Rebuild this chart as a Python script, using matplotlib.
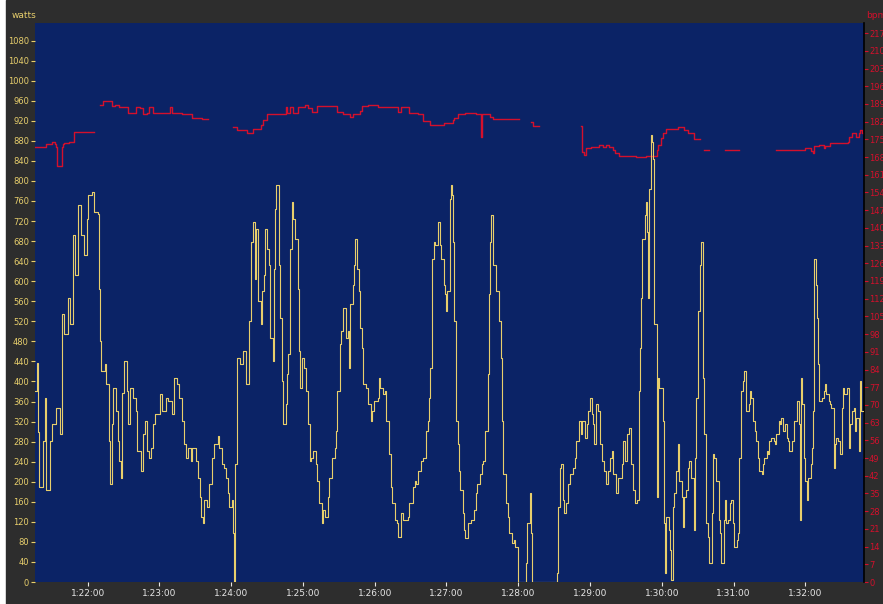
import numpy as np
import matplotlib.pyplot as plt
from matplotlib.ticker import FuncFormatter
from matplotlib.patches import Rectangle

# clock time (seconds) at the left edge of the plot, 1:21:15.6
start = 1 * 3600 + 21 * 60 + 15.6

# power samples: seconds after start, watts
watt_sec = [
    0, 2, 3, 4, 7, 9, 10, 13, 15, 18, 21, 23, 25, 28, 30, 32, 34, 36, 39, 41,
    44, 45, 48, 50, 53, 54, 55, 56, 59, 60, 62, 63, 65, 66, 68, 70, 71, 72, 73, 75,
    77, 78, 80, 82, 85, 86, 89, 91, 92, 94, 96, 97, 99, 101, 105, 107, 110, 112, 115, 117,
    119, 121, 123, 125, 127, 128, 131, 132, 135, 137, 138, 139, 141, 142, 144, 146, 148, 150, 153, 154,
    157, 158, 160, 162, 163, 165, 166, 167, 168, 169, 172, 174, 177, 179, 181, 183, 184, 185, 187, 189,
    190, 192, 193, 194, 196, 197, 199, 200, 201, 202, 204, 205, 207, 208, 210, 211, 212, 214, 215, 216,
    218, 220, 221, 222, 224, 225, 227, 229, 230, 231, 233, 235, 236, 238, 240, 241, 243, 245, 246, 249,
    251, 252, 253, 255, 256, 258, 260, 262, 263, 264, 266, 267, 268, 270, 271, 272, 274, 275, 277, 279,
    281, 282, 284, 287, 288, 289, 291, 293, 294, 296, 298, 299, 301, 303, 304, 306, 308, 312, 313, 316,
    318, 319, 321, 323, 325, 327, 329, 330, 331, 332, 334, 335, 337, 339, 340, 342, 343, 344, 345, 347,
    348, 349, 350, 351, 352, 354, 355, 356, 358, 359, 360, 362, 365, 367, 369, 370, 372, 374, 375, 377,
    379, 380, 381, 382, 383, 385, 386, 388, 390, 391, 392, 394, 396, 397, 399, 401, 402, 404, 409, 411,
    412, 414, 415, 416, 436, 437, 438, 439, 440, 442, 443, 444, 446, 448, 450, 452, 453, 455, 457, 458,
    460, 462, 463, 464, 466, 467, 468, 469, 471, 473, 474, 476, 478, 479, 481, 483, 484, 486, 488, 489,
    491, 492, 494, 495, 497, 499, 500, 502, 504, 505, 506, 507, 508, 510, 511, 512, 513, 514, 515, 516,
    517, 518, 520, 521, 522, 525, 526, 527, 528, 530, 531, 532, 534, 535, 536, 538, 539, 541, 542, 543,
    545, 546, 547, 549, 551, 552, 553, 555, 556, 557, 559, 560, 561, 563, 564, 566, 567, 568, 570, 572,
    573, 574, 576, 577, 578, 580, 581, 582, 584, 585, 587, 588, 589, 591, 592, 593, 595, 597, 598, 599,
    601, 602, 603, 605, 606, 608, 609, 610, 612, 613, 614, 616, 618, 619, 620, 622, 623, 624, 626, 627,
    629, 630, 631, 633, 634, 635, 637, 639, 640, 641, 642, 643, 644, 646, 647, 649, 650, 651, 652, 653,
    654, 655, 656, 658, 660, 661, 662, 664, 665, 666, 668, 669, 670, 672, 673, 675, 676, 677, 679, 681,
    682, 683, 685, 686, 687, 689, 690, 691, 693,
]
watts = [
    380, 437, 300, 190, 282, 367, 183, 282, 315, 347, 296, 534, 494, 566, 514, 693, 613, 752, 693, 653,
    725, 772, 778, 738, 734, 585, 480, 421, 435, 395, 282, 196, 315, 387, 341, 282, 242, 208, 377, 440,
    381, 315, 387, 367, 341, 262, 222, 296, 322, 262, 248, 268, 315, 335, 375, 341, 367, 361, 335, 407,
    395, 367, 322, 276, 248, 268, 242, 268, 242, 208, 169, 129, 117, 163, 149, 196, 248, 276, 292, 268,
    236, 228, 208, 177, 149, 163, 97, 0, 236, 447, 435, 460, 395, 520, 679, 719, 605, 705, 560, 514,
    580, 613, 705, 665, 633, 486, 440, 625, 744, 792, 633, 526, 401, 315, 355, 415, 455, 665, 758, 725,
    685, 585, 460, 387, 447, 427, 381, 315, 242, 248, 262, 236, 202, 157, 117, 143, 129, 169, 208, 248,
    268, 302, 381, 474, 500, 546, 486, 500, 427, 554, 593, 633, 685, 625, 580, 506, 466, 395, 387, 355,
    322, 341, 361, 367, 407, 387, 375, 381, 322, 256, 189, 157, 123, 117, 89, 137, 123, 129, 157, 189,
    202, 196, 222, 242, 248, 302, 322, 367, 427, 645, 679, 673, 719, 673, 645, 593, 574, 540, 580, 764,
    792, 772, 679, 520, 322, 276, 222, 183, 137, 103, 87, 117, 123, 143, 177, 196, 216, 236, 242, 302,
    415, 574, 679, 733, 633, 633, 580, 520, 447, 322, 216, 157, 129, 97, 77, 83, 69, 0, 0, 38,
    117, 177, 97, 0, 0, 18, 149, 228, 236, 163, 137, 157, 196, 216, 228, 248, 282, 322, 296, 322,
    288, 315, 341, 367, 335, 315, 276, 355, 341, 276, 242, 222, 196, 222, 248, 262, 216, 177, 208, 208,
    236, 282, 242, 296, 308, 236, 183, 157, 163, 381, 466, 566, 685, 733, 758, 699, 566, 784, 891, 877,
    844, 514, 169, 407, 387, 322, 117, 18, 129, 103, 64, 4, 149, 177, 222, 276, 202, 169, 109, 169,
    183, 228, 242, 208, 103, 248, 367, 540, 633, 679, 407, 296, 117, 89, 38, 137, 256, 248, 202, 123,
    97, 38, 123, 163, 117, 123, 157, 163, 117, 69, 83, 97, 248, 381, 401, 421, 341, 355, 381, 367,
    322, 302, 282, 248, 222, 216, 236, 248, 262, 256, 282, 288, 282, 276, 296, 322, 315, 327, 302, 315,
    288, 282, 262, 282, 282, 322, 361, 315, 123, 407, 355, 248, 202, 163, 208, 236, 268, 341, 645, 593,
    526, 435, 361, 367, 381, 395, 375, 361, 355, 347, 228, 276, 288, 282, 256, 347, 387, 375, 387, 268,
    315, 341, 347, 302, 327, 262, 401, 341, 248,
]

# heart rate: seconds after start, bpm (nan = dropout)
nan = float('nan')
hr_sec = [
    0, 10, 15, 17, 18, 19, 22, 23, 24, 25, 29, 33, 49, 50,
    55, 57, 65, 67, 71, 78, 85, 88, 91, 94, 96, 99, 113, 115, 123, 132, 140, 144, 145,
    166, 169, 178, 183, 189, 191, 194, 210, 211, 214, 216, 220, 226, 229, 232, 236, 253, 258,
    264, 266, 272, 274, 279, 287, 304, 306, 313, 321, 325, 331, 342, 350, 351, 354, 360, 369,
    373, 374, 381, 383, 404, 405,
    415, 417, 421, 422,
    457, 458, 459, 461, 465, 472, 475, 478, 480, 484, 485, 489, 503, 511, 520, 521, 524, 525,
    528, 538, 543, 546, 551, 555, 556,
    560, 563, 564,
    577, 588, 589,
    620, 644, 649, 651, 652, 656, 660, 661, 665, 680, 681, 683, 687, 689, 690, 692, 693,
]
hr_bpm = [
    172, 173.2, 174, 173.2, 172, 164.5, 164.5, 172, 173, 173.5, 174, 178, 178, nan,
    188.6, 190, 188, 188.6, 187.7, 185.6, 187.7, 187.3, 185, 185.6, 187.7, 185.6, 187.7, 185.6,
    185, 183.5, 183, 183, nan,
    180, 178.7, 177.7, 179, 180.7, 182.7, 185, 187.7, 185.6, 187.7, 185.6, 187.7, 188.6, 187.3,
    186, 188.2, 186, 185, 184, 185, 186.4, 188.2, 188.7, 187.7, 186, 187.7, 185.6, 185, 182.4,
    180.7, 181.4, 182.7, 183.3, 185, 185.6, 185, 176, 185, 184, 183, 183, nan,
    182, 180.3, 180.3, nan,
    180.3, 170.1, 168.8, 171.5, 171.9, 172.8, 171.9, 172.8, 171.9, 170.8, 169.8, 168.6, 168.2,
    168.6, 170.8, 172.8, 175.4, 177.4, 179, 180, 178.7, 177.7, 175, 175, nan,
    170.8, 170.8, nan,
    170.8, 170.8, nan,
    170.8, 171.5, 170.5, 169.8, 172.2, 172.8, 171.5, 172.4, 173.7, 174, 176, 177.7, 176.1,
    177.4, 178.5, 177.4, 177.4,
]

watt_col = '#e8cf6c'
hr_col = '#d4102c'

fig = plt.figure(figsize=(8.83, 6.04), dpi=100, facecolor='white')
fig.add_artist(Rectangle((6 / 883, 0), 1, 1, transform=fig.transFigure,
                         color='#2d2d2d', zorder=-10))

ax = fig.add_axes([34.5 / 883, 22 / 604, 829 / 883, 559 / 604])
ax2 = ax.twinx()
ax2.patch.set_visible(True)
ax2.set_facecolor('#0b2366')
ax.set_zorder(ax2.get_zorder() + 1)
ax.patch.set_visible(False)

ax2.plot(start + np.array(hr_sec), hr_bpm, drawstyle='steps-post', color=hr_col, lw=1)
ax.plot(start + np.array(watt_sec), watts, drawstyle='steps-post', color=watt_col, lw=0.8)

ax.set_xlim(start, start + 693)
ax.set_ylim(0, 1115)
ax2.set_ylim(0, 221)
ax.set_yticks(np.arange(0, 1081, 40))
ax2.set_yticks(np.arange(0, 218, 7))
ax.set_xticks(np.arange(4920, 5521, 60))
ax.xaxis.set_major_formatter(FuncFormatter(
    lambda v, p: f"{int(v) // 3600}:{int(v) % 3600 // 60:02d}:{int(v) % 60:02d}"))

ax.tick_params(axis='y', colors=watt_col, labelsize=6, length=3, pad=1)
ax.tick_params(axis='x', colors='#e6e6e6', labelsize=6.5, length=3, pad=2)
ax2.tick_params(axis='y', colors=hr_col, labelsize=6, length=3, pad=1)

for a in (ax, ax2):
    for side in ('top', 'left', 'bottom'):
        a.spines[side].set_visible(False)
ax.spines['right'].set_visible(False)
ax2.spines['right'].set_color('black')
ax2.spines['right'].set_linewidth(1.2)

fig.text(12 / 883, 1 - 15 / 604, 'watts', color=watt_col, fontsize=6.5, va='center')
fig.text(866 / 883, 1 - 15 / 604, 'bpm', color=hr_col, fontsize=6.5, va='center')

fig.savefig('out.png', dpi=100, facecolor=fig.get_facecolor())
